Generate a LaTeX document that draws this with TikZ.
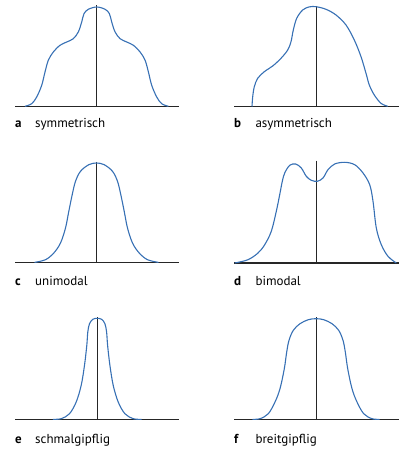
\documentclass[tikz,border=0pt]{standalone}
\usepackage{fontspec}
\setmainfont{PT Sans}
\definecolor{curveblue}{RGB}{55,112,180}
\begin{document}
\begin{tikzpicture}[x=1bp,y=-1bp,
  axisline/.style={draw=black!85, line width=1.1bp},
  meanline/.style={draw=black!85, line width=1bp},
  curve/.style={draw=curveblue, line width=1.1bp, smooth, tension=0.55},
  lbl/.style={anchor=base west, inner sep=0pt, font=\fontsize{13bp}{15bp}\selectfont},
  letter/.style={anchor=base west, inner sep=0pt, font=\fontsize{13bp}{15bp}\selectfont\bfseries}]
\useasboundingbox (0,0) rectangle (413,467);

% ---------- a ----------
\coordinate (aL) at (15,106.5); \coordinate (aR) at (179,106.5);
\coordinate (aT) at (96.7,5.5); \coordinate (aB) at (96.7,106.5);
\draw[axisline] (aL) -- (aR);
\draw[meanline] (aT) -- (aB);
\begin{scope}[shift={(96.7,0)}]
\draw[curve] plot coordinates {(-71.7,106.3) (-65,103.7) (-60,97) (-55,85.3) (-51.7,72) (-48.4,60.3) (-43.4,52) (-36.7,45.3) (-30,42) (-23.4,38.7) (-18.4,32) (-15,22) (-12.7,13.7) (-8.4,9.3) (0,7)
 (8.4,9.3) (12.7,13.7) (15,22) (18.4,32) (23.4,38.7) (30,42) (36.7,45.3) (43.4,52) (48.4,60.3) (51.7,72) (55,85.3) (60,97) (65,103.7) (71.7,106.3)};
\end{scope}
\node[letter] (la) at (15,128) {a};
\node[lbl] (ta) at (35,128) {symmetrisch};

% ---------- b ----------
\coordinate (bL) at (234,106.5); \coordinate (bR) at (399,106.5);
\coordinate (bT) at (316,6); \coordinate (bB) at (316,106.5);
\draw[axisline] (bL) -- (bR);
\draw[meanline] (bT) -- (bB);
\draw[curve] plot coordinates {(252,106.5) (252.7,96.7) (254.3,86.7) (257.7,78.3) (264.3,71.7) (272.7,66) (281,58.3) (287.7,50) (291,41.7) (293.3,30) (296.7,18.3) (302.7,10) (309.3,6.9) (316,6.7) (326,9.3) (336,15) (346,25) (354.3,40) (361,56.7) (366,73.3) (369.3,85) (374.3,95) (381,103.3) (387.7,106.3)};
\node[letter] (lb) at (234,128) {b};
\node[lbl] (tb) at (255.3,128) {asymmetrisch};

% ---------- c ----------
\coordinate (cL) at (15,262.5); \coordinate (cR) at (179,262.5);
\coordinate (cT) at (96.5,162); \coordinate (cB) at (96.5,262.5);
\draw[axisline] (cL) -- (cR);
\draw[meanline] (cT) -- (cB);
\begin{scope}[shift={(96.5,0)}]
\draw[curve] plot coordinates {(-62,262.4) (-51,259.7) (-42.7,253) (-36,243) (-31,228) (-27.7,211.3) (-24.3,194.7) (-21,181.3) (-16,171.3) (-7.7,164.7) (0,163)
 (7.7,164.7) (16,171.3) (21,181.3) (24.3,194.7) (27.7,211.3) (31,228) (36,243) (42.7,253) (51,259.7) (62,262.4)};
\end{scope}
\node[letter] (lc) at (15,285) {c};
\node[lbl] (tc) at (35,285) {unimodal};

% ---------- d ----------
\coordinate (dL) at (234,263); \coordinate (dR) at (399,263);
\coordinate (dT) at (316.3,160.7); \coordinate (dB) at (316.3,263);
\draw[axisline] (dL) -- (dR);
\draw[meanline] (dT) -- (dB);
\draw[curve] plot coordinates {(234.7,263) (248,259.7) (258,253) (264.7,244.7) (271.3,231.3) (276.3,211.3) (279.7,194.7) (282.3,181.3) (284.7,173) (289.7,165.3) (295.7,164) (301.3,168) (306.3,176.3) (311.3,180.3) (317.3,181.3) (323,178) (328,169.7) (334.7,164) (344.7,162.3) (354.7,164.7) (363,173) (369.7,184.7) (373,201.3) (376.3,228) (381.3,244.7) (388,256.3) (396.3,263)};
\node[letter] (ld) at (234,285) {d};
\node[lbl] (td) at (255.3,285) {bimodal};

% ---------- e ----------
\coordinate (eL) at (15,419.3); \coordinate (eR) at (179,419.3);
\coordinate (eT) at (97.2,317); \coordinate (eB) at (97.2,419.3);
\draw[axisline] (eL) -- (eR);
\draw[meanline] (eT) -- (eB);
\begin{scope}[shift={(97.2,0)}]
\draw[curve] plot coordinates {(-44.4,419.3) (-36,418.7) (-27.7,413.7) (-21,402) (-16,385.3) (-12.7,365.3) (-10.4,345.3) (-9.4,332) (-7.7,323.7) (-4.4,319.3) (0,318.3)
 (4.4,319.3) (7.7,323.7) (9.4,332) (10.4,345.3) (12.7,365.3) (16,385.3) (21,402) (27.7,413.7) (36,418.7) (44.4,419.3)};
\end{scope}
\node[letter] (le) at (15,443) {e};
\node[lbl] (te) at (35,443) {schmalgipflig};

% ---------- f ----------
\coordinate (fL) at (234,419.3); \coordinate (fR) at (399,419.3);
\coordinate (fT) at (316,317); \coordinate (fB) at (316,419.3);
\draw[axisline] (fL) -- (fR);
\draw[meanline] (fT) -- (fB);
\begin{scope}[shift={(316,0)}]
\draw[curve] plot coordinates {(-63.5,419.3) (-56,418.7) (-47.7,413.7) (-41,402) (-36,388.7) (-31.7,368.7) (-29.3,352) (-27,340.3) (-22.7,330.3) (-16,323.7) (-7.7,319.7) (0,318.7)
 (7.7,319.7) (16,323.7) (22.7,330.3) (27,340.3) (29.3,352) (31.7,368.7) (36,388.7) (41,402) (47.7,413.7) (56,418.7) (63.5,419.3)};
\end{scope}
\node[letter] (lf) at (234,443) {f};
\node[lbl] (tf) at (255.3,443) {breitgipflig};
\end{tikzpicture}
\end{document}
